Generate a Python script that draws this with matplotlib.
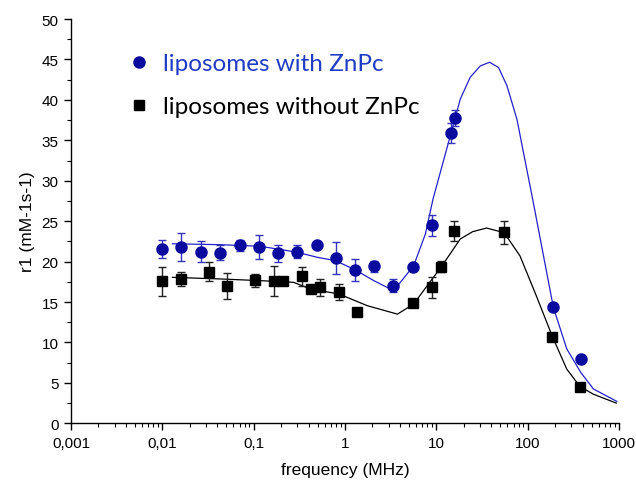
import matplotlib
matplotlib.use("Agg")
import matplotlib.pyplot as plt
from matplotlib.lines import Line2D
from matplotlib.ticker import FixedLocator, FixedFormatter, LogLocator, NullFormatter, MultipleLocator

# ---- data ----
freq_zn = [0.0100, 0.0162, 0.0265, 0.0433, 0.0703, 0.114, 0.184, 0.300, 0.488,
           0.794, 1.29, 2.09, 3.39, 5.50, 8.97, 14.5, 16.1, 191, 381]
r1_zn = [21.6, 21.8, 21.2, 21.1, 22.0, 21.8, 21.0, 21.2, 22.0,
         20.45, 19.0, 19.4, 17.0, 19.35, 24.5, 35.9, 37.8, 14.35, 7.9]
err_zn = [1.1, 1.7, 1.3, 0.9, 0.65, 1.45, 1.0, 0.8, 0.0,
          1.95, 1.35, 0.7, 0.8, 0.3, 1.3, 1.2, 1.0, 0.0, 0.0]

freq_no = [0.0100, 0.0161, 0.0325, 0.0516, 0.104, 0.167, 0.209, 0.335, 0.427,
           0.535, 0.865, 1.37, 5.56, 8.97, 11.25, 15.7, 55.3, 187, 375]
r1_no = [17.55, 17.8, 18.75, 16.95, 17.7, 17.55, 17.65, 18.2, 16.6,
         16.8, 16.2, 13.8, 14.85, 16.8, 19.35, 23.8, 23.6, 10.7, 4.55]
err_no = [1.75, 0.86, 1.15, 1.6, 0.8, 1.85, 0.0, 1.17, 0.0,
          1.1, 1.0, 0.4, 0.0, 1.25, 0.7, 1.2, 1.4, 0.0, 0.0]

# fitted curves
fit_f_zn = [0.0129, 0.0435, 0.119, 0.30, 0.497, 0.787, 1.30, 2.07, 3.41, 5.65,
            7.59, 9.20, 14.5, 18.3, 23.5, 30.3, 38.3, 48.0, 59.3, 76.3, 113.5,
            191, 268, 381, 524, 944]
fit_r_zn = [22.2, 22.09, 21.89, 21.15, 20.53, 20.11, 18.96, 17.64, 16.4, 19.49,
            23.41, 27.74, 35.9, 40.1, 42.8, 44.2, 44.65, 44.0, 41.75, 37.6, 27.7,
            14.35, 9.2, 6.3, 4.25, 2.72]

fit_f_no = [0.0129, 0.0435, 0.119, 0.273, 0.420, 0.856, 1.75, 3.75, 5.65, 8.67,
            11.3, 18.3, 25.0, 35.5, 55.3, 82.4, 123, 187, 268, 375, 524, 933]
fit_r_no = [18.05, 17.85, 17.64, 17.44, 16.6, 16.0, 14.55, 13.5, 14.75, 17.6,
            19.33, 22.8, 23.7, 24.15, 23.57, 20.7, 15.9, 10.7, 6.7, 4.53, 3.6, 2.5]

x_ticks = [0.001, 0.01, 0.1, 1, 10, 100, 1000]
x_ticklabels = ["0,001", "0,01", "0,1", "1", "10", "100", "1000"]
labels = ["liposomes with ZnPc", "liposomes without ZnPc"]

# ---- styling ----
plt.rcParams['font.family'] = ['Liberation Sans', 'DejaVu Sans']
BLUE_MK = "#0a0a9e"
BLUE_LN = "#2222c8"
BLUE_TXT = "#1f3cc4"

fig = plt.figure(figsize=(6.36, 4.89), dpi=100)
ax = fig.add_axes([71/636, 1 - 424.3/489, (619 - 71)/636, (424.3 - 20)/489])

ax.plot(fit_f_zn, fit_r_zn, color=BLUE_LN, lw=0.9, zorder=2)
ax.plot(fit_f_no, fit_r_no, color="black", lw=0.9, zorder=2)

ax.errorbar(freq_no, r1_no, yerr=err_no, fmt='s', color='black', ms=7.5,
            ecolor='#222222', elinewidth=1.0, capsize=3, capthick=1.0, zorder=3)
ax.errorbar(freq_zn, r1_zn, yerr=err_zn, fmt='o', color=BLUE_MK, ms=8,
            ecolor='#3333bb', elinewidth=1.0, capsize=3, capthick=1.0, zorder=4)

ax.set_xscale('log')
ax.set_xlim(0.001, 1000)
ax.set_ylim(0, 50)
ax.xaxis.set_major_locator(FixedLocator(x_ticks))
ax.xaxis.set_major_formatter(FixedFormatter(x_ticklabels))
ax.xaxis.set_minor_locator(LogLocator(base=10, subs=range(2, 10), numticks=20))
ax.xaxis.set_minor_formatter(NullFormatter())
ax.yaxis.set_major_locator(MultipleLocator(5))
ax.yaxis.set_minor_locator(MultipleLocator(2.5))

for s in ['top', 'right']:
    ax.spines[s].set_visible(False)
for s in ['left', 'bottom']:
    ax.spines[s].set_linewidth(1.0)
ax.tick_params(which='major', direction='out', length=5, width=1.0, labelsize=11, pad=4)
ax.tick_params(which='minor', direction='out', length=3, width=0.8)

ax.set_xlabel("frequency (MHz)", fontsize=12.5, labelpad=9)
ax.set_ylabel("r1 (mM-1s-1)", fontsize=12.5, labelpad=5)

handles = [Line2D([], [], marker='o', ls='none', color=BLUE_MK, ms=8),
           Line2D([], [], marker='s', ls='none', color='black', ms=7.5)]
leg = fig.legend(handles, labels, loc='upper left', bbox_to_anchor=(128.6/636, 1 - 54/489),
                 frameon=False, prop={'family': 'Lato', 'size': 17.5}, handlelength=0.85,
                 handletextpad=0.55, labelspacing=0.92, borderpad=0, borderaxespad=0)
leg.get_texts()[0].set_color(BLUE_TXT)
leg.get_texts()[1].set_color('black')

fig.savefig("out.png", dpi=100)
